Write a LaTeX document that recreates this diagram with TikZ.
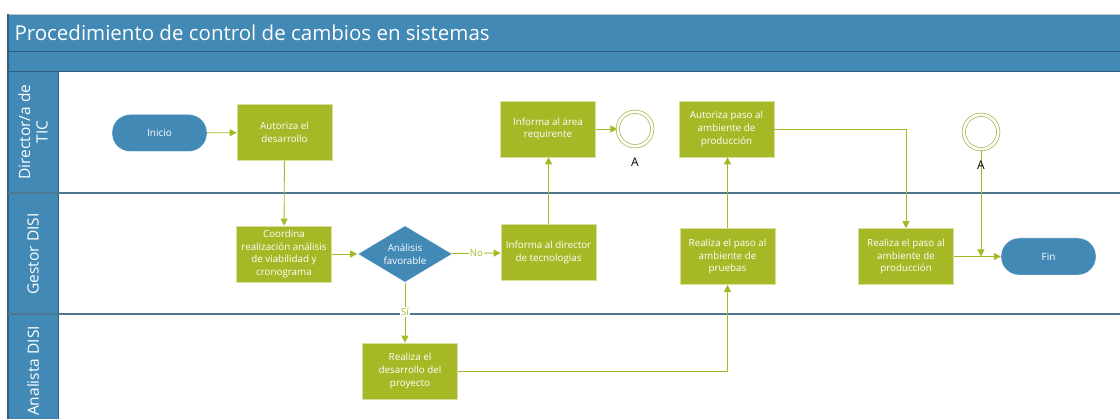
\documentclass[tikz,border=0pt]{standalone}
\usepackage{fontspec}
\setmainfont{Open Sans}
\usetikzlibrary{arrows.meta,shapes.geometric,positioning}

\definecolor{laneblue}{HTML}{4289B5}
\definecolor{laneline}{HTML}{2F5F7E}
\definecolor{sepline}{HTML}{4E7892}
\definecolor{taskgreen}{HTML}{A7B826}
\definecolor{ringgreen}{HTML}{9CBB4A}

\begin{document}
\begin{tikzpicture}[x=1pt,y=-1pt,
    task/.style={fill=taskgreen,draw=taskgreen!45,line width=0.6pt,minimum width=95pt,minimum height=56pt,
        align=center,text=white,inner sep=1pt,font=\fontsize{9.8}{12.8}\selectfont},
    term/.style={fill=laneblue,draw=white,rounded corners=18pt,minimum width=95pt,minimum height=37pt,
        text=white,font=\fontsize{10}{12}\selectfont},
    decide/.style={diamond,aspect=1.7,fill=laneblue,draw=white,line width=0.6pt,minimum width=95pt,minimum height=57pt,
        inner sep=0pt,align=center,text=white,font=\fontsize{9.8}{12.8}\selectfont},
    ring/.style={circle,draw=ringgreen,line width=0.7pt,double=white,double distance=2.6pt,minimum size=34.5pt,inner sep=0pt},
    lanetext/.style={rotate=90,text=white,align=center,font=\fontsize{15.5}{17.5}\selectfont},
    flow/.style={draw=taskgreen,line width=0.9pt,-{Triangle[length=7pt,width=7pt]}},
    flowtag/.style={fill=white,text=taskgreen,inner sep=1pt,font=\fontsize{9.5}{10}\selectfont}]

    \useasboundingbox (0,0) rectangle (1120,419);

    % pool and lanes
    \fill[laneblue] (8,14) rectangle (1130,72);
    \fill[laneblue] (8,72) rectangle (58,430);
    \draw[gray!50,line width=0.8pt] (8,14) -- (1130,14);
    \draw[laneline,line width=1pt] (8,52) -- (1130,52);
    \draw[laneline,line width=1pt] (8,72) -- (1130,72);
    \draw[laneline,line width=1.2pt] (8,14) -- (8,430);
    \draw[laneline,line width=1pt] (58,72) -- (58,430);
    \draw[sepline,line width=1.2pt] (8,193) -- (1130,193);
    \draw[sepline,line width=1.2pt] (8,314) -- (1130,314);

    \node[anchor=west,text=white,font=\fontsize{20.5}{24}\selectfont] (title) at (11,33) {Procedimiento de control de cambios en sistemas};
    \node[lanetext] (lanedir) at (33,132) {Director/a de\\TIC};
    \node[lanetext] (lanegest) at (33,254) {Gestor DISI};
    \node[lanetext] (laneanal) at (33,371) {Analista DISI};

    % Director/a de TIC
    \node[term] (inicio) at (159.5,133) {Inicio};
    \node[task] (autdes) at (284.5,132.5) {Autoriza el\\desarrollo};
    \node[task] (infarea) at (548,129) {Informa al área\\requirente};
    \node[ring] (ringa) at (635,129) {};
    \node[font=\fontsize{12}{14}\selectfont] (taga) at (635,162) {A};
    \node[task] (autprod) at (726.5,129) {Autoriza paso al\\ambiente de\\producción};
    \node[ring] (ringb) at (981,132) {};

    % Gestor DISI
    \node[task] (coord) at (284,254) {Coordina\\realización análisis\\de viabilidad y\\cronograma};
    \node[decide] (favor) at (405,254) {Análisis\\favorable};
    \node[task] (infdir) at (548.5,252.5) {Informa al director\\de tecnologias};
    \node[task] (pasoprb) at (727.5,256.5) {Realiza el paso al\\ambiente de\\pruebas};
    \node[task] (pasoprod) at (906,256.5) {Realiza el paso al\\ambiente de\\producción};
    \node[term] (fin) at (1048.5,256.5) {Fin};

    % Analista DISI
    \node[task] (desarr) at (410,371) {Realiza el\\desarrollo del\\proyecto};

    % connectors
    \coordinate (merge) at (ringb |- pasoprod.east);
    \draw[flow] (inicio) -- (autdes);
    \draw[flow] (autdes) -- (coord);
    \draw[flow] (coord) -- (favor);
    \draw[flow] (favor) -- node[flowtag] {No} (infdir);
    \draw[flow] (infdir.north) -- (infarea.south -| infdir.north);
    \draw[flow] (infarea) -- (ringa);
    \draw[flow] (favor.south) -- (favor.south |- desarr.north);
    \node[flowtag] (tagsi) at (405,312) {Sí};
    \draw[flow] (desarr.east) -| (pasoprb.south);
    \draw[flow] (pasoprb.north) -- (autprod.south -| pasoprb.north);
    \draw[flow] (autprod.east) -| (pasoprod.north);
    \draw[flow] (ringb.south) -- (merge);
    \draw[flow] (pasoprod.east) -- (fin.west);
    \node[font=\fontsize{12}{14}\selectfont] (tagb) at (981,165) {A};
\end{tikzpicture}
\end{document}
